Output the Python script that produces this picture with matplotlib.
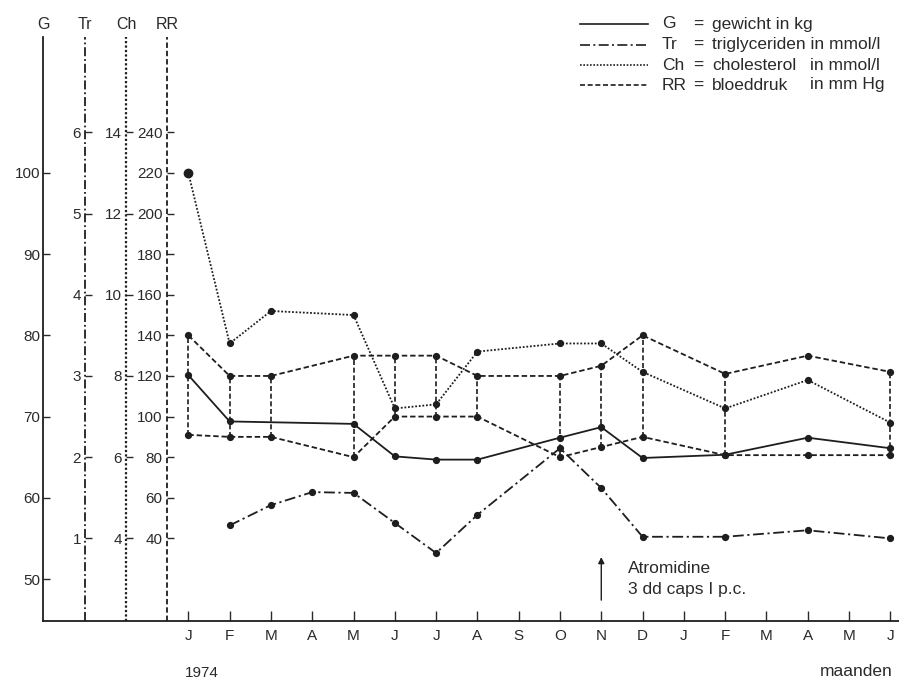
import numpy as np
import matplotlib
matplotlib.use("Agg")
import matplotlib.pyplot as plt
from matplotlib.lines import Line2D

plt.rcParams['font.family'] = ['Liberation Sans', 'DejaVu Sans']

# maanden jan 1974 .. jun 1975 (index 0..17)
month_labels = ['J', 'F', 'M', 'A', 'M', 'J', 'J', 'A', 'S', 'O', 'N', 'D',
                'J', 'F', 'M', 'A', 'M', 'J']

# G = gewicht in kg
g_months = [0, 1, 4, 5, 6, 7, 9, 10, 11, 13, 15, 17]
g_vals = [75.1, 69.4, 69.1, 65.1, 64.7, 64.7, 67.4, 68.7, 64.9, 65.3, 67.4, 66.1]

# Tr = triglyceriden in mmol/l
tr_months = [1, 2, 3, 4, 5, 6, 7, 9, 10, 11, 13, 15, 17]
tr_vals = [1.16, 1.41, 1.57, 1.56, 1.19, 0.82, 1.29, 2.11, 1.62, 1.02, 1.02, 1.10, 1.00]

# Ch = cholesterol in mmol/l
ch_months = [0, 1, 2, 4, 5, 6, 7, 9, 10, 11, 13, 15, 17]
ch_vals = [13.0, 8.8, 9.6, 9.5, 7.2, 7.3, 8.6, 8.8, 8.8, 8.1, 7.2, 7.9, 6.85]

# RR = bloeddruk in mm Hg (systolisch / diastolisch)
rr_months = [0, 1, 2, 4, 5, 6, 7, 9, 10, 11, 13, 15, 17]
rr_sys = [140, 120, 120, 130, 130, 130, 120, 120, 125, 140, 121, 130, 122]
rr_dia = [91, 90, 90, 80, 100, 100, 100, 80, 85, 90, 81, 81, 81]
rr_linked = [0, 1, 2, 4, 5, 6, 7, 9, 10, 11, 13, 17]

g_ticks = [50, 60, 70, 80, 90, 100]
tr_ticks = [1, 2, 3, 4, 5, 6]
ch_ticks = [4, 6, 8, 10, 12, 14]
rr_ticks = [40, 60, 80, 100, 120, 140, 160, 180, 200, 220, 240]

INK = '#1e1e1e'
TXT = '#2a2a2a'
W, H = 899, 681

ls_tr = (0, (5, 1.6, 1, 1.6))
ls_tr_line = (0, (6, 2, 1.2, 2))
ls_ch = (0, (1, 1))
ls_rr = (0, (3, 1.6))


def g_to_rr(g):
    return 4 * g - 180


def rr_to_ch(rr):
    return rr / 20 + 2


def ch_to_tr(ch):
    return (ch - 2) / 2


g_lim = (44.83, 116.77)
rr_lim = tuple(g_to_rr(v) for v in g_lim)
ch_lim = tuple(rr_to_ch(v) for v in rr_lim)
tr_lim = tuple(ch_to_tr(v) for v in ch_lim)

fig = plt.figure(figsize=(W / 100, H / 100), dpi=100)
ax = fig.add_axes([43 / W, (H - 621) / H, (W - 43) / W, (621 - 36.7) / H])
ax.set_xlim(-3.52, 17.21)
ax.set_ylim(g_lim)
for s in ['top', 'right']:
    ax.spines[s].set_visible(False)
for s in ['left', 'bottom']:
    ax.spines[s].set_linewidth(1.3)
    ax.spines[s].set_color(INK)
ax.set_yticks(g_ticks)
ax.tick_params(axis='y', direction='in', length=5, width=1, pad=2,
               labelsize=11, colors=TXT)
ax.set_xticks(range(len(month_labels)))
ax.set_xticklabels(month_labels)
ax.tick_params(axis='x', direction='in', length=7, width=1, pad=6,
               labelsize=11, colors=TXT)


def add_scale(xpos, lim, ticks, ls, lw=1.3):
    a = ax.twinx()
    a.set_ylim(lim)
    for s in ['right', 'top', 'bottom']:
        a.spines[s].set_visible(False)
    sp = a.spines['left']
    sp.set_visible(True)
    sp.set_position(('data', xpos))
    sp.set_linestyle(ls)
    sp.set_capstyle('butt')
    sp.set_linewidth(lw)
    sp.set_color(INK)
    a.yaxis.set_ticks_position('left')
    a.set_yticks(ticks)
    a.tick_params(axis='y', direction='in', length=5, width=1, pad=3,
                  labelsize=11, colors=TXT)
    return a


ax_tr = add_scale(-2.5, tr_lim, tr_ticks, ls_tr)
ax_ch = add_scale(-1.51, ch_lim, ch_ticks, ls_ch, lw=1.6)
ax_rr = add_scale(-0.52, rr_lim, rr_ticks, ls_rr)

# scale headings
for xpos, name in [(-3.52, 'G'), (-2.5, 'Tr'), (-1.51, 'Ch'), (-0.52, 'RR')]:
    ax.annotate(name, xy=(xpos, 1), xycoords=('data', 'axes fraction'),
                xytext=(0, 8.5), textcoords='offset points',
                ha='center', va='center', fontsize=11.5, color=TXT)

mk = dict(marker='o', markersize=4.2, color=INK, lw=1.3)

ax.plot(g_months, g_vals, linestyle='-', **mk)
ax_tr.plot(tr_months, tr_vals, linestyle=ls_tr_line, **mk)
ax_ch.plot(ch_months, ch_vals, linestyle=ls_ch, **mk)
ax_ch.plot(ch_months[:1], ch_vals[:1], 'o', markersize=6, color=INK)
ax_rr.plot(rr_months, rr_sys, linestyle=ls_rr, **mk)
ax_rr.plot(rr_months, rr_dia, linestyle=ls_rr, **mk)
sys_d = dict(zip(rr_months, rr_sys))
dia_d = dict(zip(rr_months, rr_dia))
ax_rr.vlines(rr_linked, [dia_d[m] for m in rr_linked], [sys_d[m] for m in rr_linked],
             colors=INK, linestyles=[ls_rr], lw=1.2)

# Atromidine start
ax.annotate('', xy=(10, 52.7), xytext=(10, 47.4),
            arrowprops=dict(arrowstyle='-|>', lw=1.0, color=INK,
                            mutation_scale=9, shrinkA=0, shrinkB=0))
ax.text(10.64, 51.35, 'Atromidine', fontsize=12.5, color=TXT, va='center', ha='left')
ax.text(10.64, 48.65, '3 dd caps I p.c.', fontsize=12.5, color=TXT, va='center', ha='left')

fig.text(185 / W, 1 - 673 / H, '1974', fontsize=11, color=TXT, va='center', ha='left')
fig.text(893 / W, 1 - 672 / H, 'maanden', fontsize=12.5, color=TXT, va='center', ha='right')

# legend
legend_rows = [
    ('-', 'G', 'gewicht in kg', ''),
    (ls_tr_line, 'Tr', 'triglyceriden in mmol/l', ''),
    (ls_ch, 'Ch', 'cholesterol', 'in mmol/l'),
    (ls_rr, 'RR', 'bloeddruk', 'in mm Hg'),
]
row_y = [24, 44.5, 65, 85]
for (ls, abbr, desc, unit), y in zip(legend_rows, row_y):
    fy = 1 - y / H
    fig.add_artist(Line2D([580 / W, 648 / W], [fy, fy], color=INK, lw=1.2, linestyle=ls))
    fig.text(662 / W, fy, abbr, fontsize=12.5, color=TXT, va='center', ha='left')
    fig.text(693 / W, fy, '=', fontsize=12.5, color=TXT, va='center', ha='left')
    fig.text(712 / W, fy, desc, fontsize=12.5, color=TXT, va='center', ha='left')
    if unit:
        fig.text(810 / W, fy, unit, fontsize=12.5, color=TXT, va='center', ha='left')

fig.savefig('out.png', dpi=100)
